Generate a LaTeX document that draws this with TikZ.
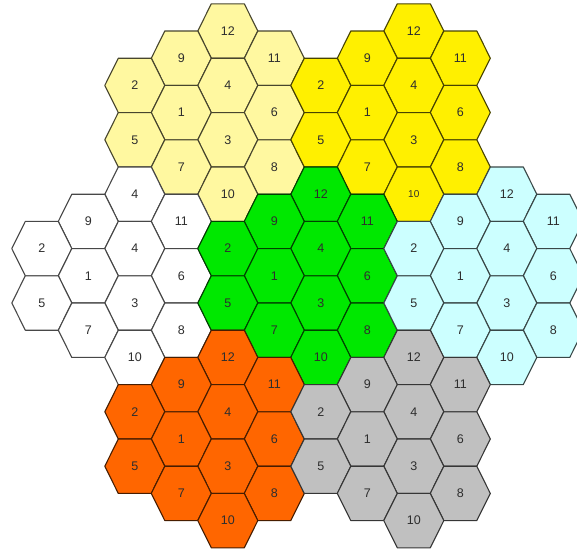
\documentclass[tikz,border=0pt]{standalone}
\usepackage{fontspec}
\setmainfont{Liberation Sans}
\usetikzlibrary{positioning}

\definecolor{paleyellow}{HTML}{FFF8A0}
\definecolor{brightyellow}{HTML}{FFF000}
\definecolor{brightgreen}{HTML}{00E800}
\definecolor{lightcyan}{HTML}{CCFFFF}
\definecolor{cellorange}{HTML}{FF6600}
\definecolor{cellgray}{HTML}{C0C0C0}

\tikzset{
    hexcell/.style={draw=#1!28!black, fill=#1, line width=1.1pt, line join=round},
    hexlabel/.style={text=black!82, font=\fontsize{12.5}{14}\selectfont, inner sep=0pt}
}

\begin{document}
\begin{tikzpicture}[x=1pt, y=-1pt]
    \useasboundingbox (0,0) rectangle (577,554);

    % Clusters: name / column / row / fill / label of the top cell / label of the bottom cell
    \foreach \cname/\ccol/\crow/\clr/\toplab/\botlab in {
        paleyellow/0/0/paleyellow/12/10,
        yellow/4/0/brightyellow/12/{\fontsize{10}{12}\selectfont 10},
        white/-2/6/white/4/10,
        green/2/6/brightgreen/12/10,
        cyan/6/6/lightcyan/12/10,
        orange/0/12/cellorange/12/10,
        gray/4/12/cellgray/12/10}
    {
        % Cells of one cluster: label / column offset / half-row offset
        \foreach \lab/\dc/\dr [count=\i] in {
            \toplab/0/0, 9/-1/1, 11/1/1, 2/-2/2, 4/0/2, 1/-1/3,
            6/1/3, 5/-2/4, 3/0/4, 7/-1/5, 8/1/5, \botlab/0/6}
        {
            \coordinate (\cname-c\i) at ({227.8+46.5*(\ccol+\dc)}, {31+27.2*(\crow+\dr)});
            \draw[hexcell=\clr, shift={(\cname-c\i)}]
                (-30,0) -- (-16.5,-27.2) -- (16.5,-27.2) -- (30,0)
                -- (16.5,27.2) -- (-16.5,27.2) -- cycle;
            \node[hexlabel] (\cname-\i) at (\cname-c\i) {\lab};
        }
    }
\end{tikzpicture}
\end{document}
